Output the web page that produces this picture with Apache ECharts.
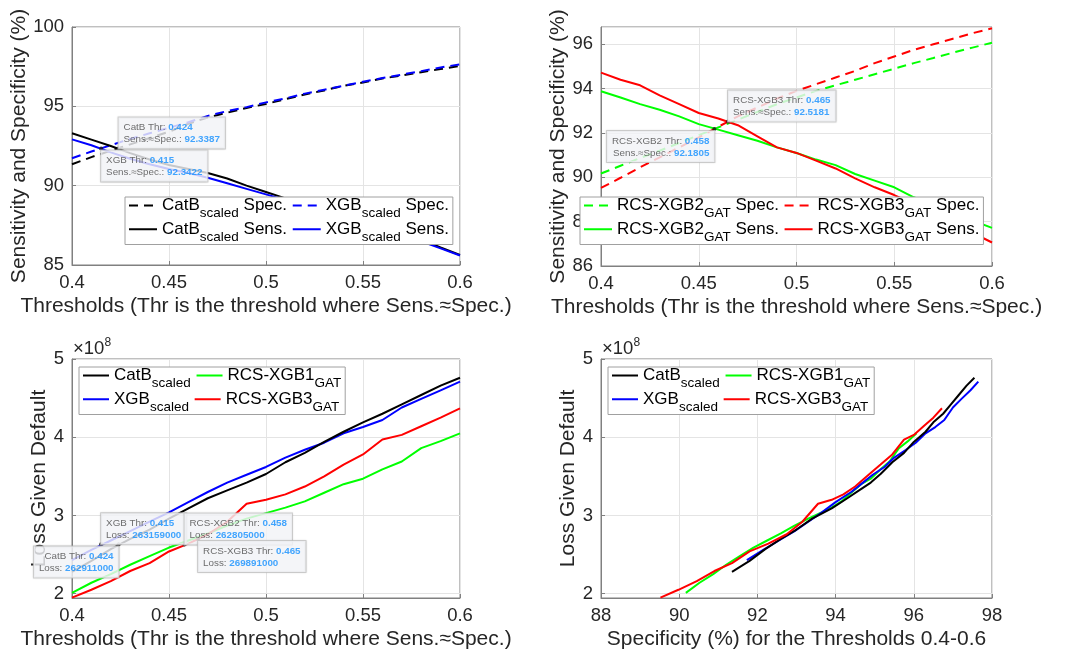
<!DOCTYPE html>
<html><head><meta charset="utf-8">
<script src="https://cdn.jsdelivr.net/npm/echarts@6/dist/echarts.min.js"></script>
<style>html,body{margin:0;padding:0;background:#fff}#c{width:1065px;height:661px}</style>
</head><body><div id="c"></div>
<script>
// ---------- data ----------
const thresholds = [0.40,0.41,0.42,0.43,0.44,0.45,0.46,0.47,0.48,0.49,0.50,0.51,0.52,0.53,0.54,0.55,0.56,0.57,0.58,0.59,0.60];
const catbSpec = [91.35,91.8,92.2,92.6,93.0,93.4,93.9,94.3,94.6,94.9,95.15,95.45,95.75,96.0,96.3,96.5,96.75,96.95,97.15,97.35,97.55];
const xgbSpec  = [91.73,92.15,92.55,92.95,93.3,93.65,94.0,94.4,94.7,94.95,95.25,95.5,95.8,96.05,96.3,96.55,96.78,97.0,97.22,97.45,97.65];
const catbSens = [93.3,92.9,92.5,92.05,91.65,91.3,91.05,90.8,90.45,90.0,89.6,89.2,88.8,88.45,88.1,87.75,87.4,87.05,86.6,86.1,85.63];
const xgbSens  = [92.92,92.55,92.1,91.7,91.35,91.05,90.8,90.5,90.15,89.8,89.45,89.1,88.75,88.4,88.05,87.7,87.3,86.9,86.5,86.05,85.6];
const xgb2Spec = [90.17,90.52,90.87,91.2,91.55,91.9,92.25,92.6,92.95,93.3,93.6,93.9,94.15,94.4,94.65,94.9,95.15,95.38,95.62,95.85,96.07];
const xgb3Spec = [89.52,89.98,90.45,90.9,91.35,91.8,92.28,92.75,93.15,93.55,93.9,94.2,94.5,94.8,95.15,95.45,95.75,96.0,96.25,96.5,96.72];
const xgb2Sens = [93.88,93.6,93.3,93.05,92.75,92.4,92.15,91.9,91.65,91.35,91.1,90.8,90.55,90.15,89.85,89.55,89.1,88.75,88.4,88.05,87.72];
const xgb3Sens = [94.72,94.4,94.15,93.7,93.3,92.9,92.65,92.35,91.85,91.35,91.1,90.75,90.4,89.95,89.55,89.2,88.8,88.4,88.0,87.5,87.06];
// Loss Given Default, in units of 1e8
const catbLoss = [2.28,2.42,2.57,2.70,2.82,2.96,3.09,3.22,3.32,3.42,3.53,3.68,3.80,3.94,4.07,4.19,4.30,4.42,4.54,4.66,4.76];
const xgbLoss  = [2.43,2.56,2.68,2.80,2.92,3.04,3.17,3.30,3.42,3.52,3.62,3.74,3.84,3.93,4.05,4.13,4.22,4.38,4.49,4.60,4.71];
const xgb1Loss = [2.01,2.14,2.25,2.37,2.48,2.59,2.68,2.77,2.87,2.96,3.03,3.10,3.18,3.29,3.40,3.47,3.59,3.69,3.86,3.95,4.05];
const xgb3Loss = [1.95,2.05,2.16,2.29,2.39,2.54,2.64,2.76,2.92,3.15,3.20,3.27,3.37,3.50,3.65,3.78,3.97,4.03,4.14,4.25,4.37];

const lossTicks = [2,3,4,5];

// data tips
const tipTLNames = ['CatB','XGB'];
const tipTLThr = [0.424,0.415];
const tipTLVal = [92.3387,92.3422];
const tipTRNames = ['RCS-XGB3','RCS-XGB2'];
const tipTRThr = [0.465,0.458];
const tipTRVal = [92.5181,92.1805];
const tipBLNames = ['XGB','CatB','RCS-XGB2','RCS-XGB3'];
const tipBLThr = [0.415,0.424,0.458,0.465];
const tipBLLoss = [263159000,262911000,262805000,269891000];

// ---------- styles ----------
const FONT = '"Liberation Sans", Arial, Helvetica, sans-serif';
const TXT = '#262626';
const AX = '#808080';
const DASH = [9,6];
const tipAnchorTL = ['bl','tl'];
const tipAnchorTR = ['bl','tr'];
const tipAnchorBL = ['bl','tr','bl','tl'];

const pairs = (xs, ys) => xs.map((x,i)=>[x, ys[i]]);

const grids = [
  {left:72, top:27, width:388, height:238},
  {left:601, top:27, width:391, height:239},
  {left:72, top:359, width:388, height:239},
  {left:601, top:359, width:391, height:239}
].map(g => Object.assign(g, {show:true, borderColor:AX, borderWidth:1, backgroundColor:'transparent'}));

function axisCommon(extra) {
  return Object.assign({
    type:'value',
    axisLine:{show:true, onZero:false, lineStyle:{color:AX, width:1}},
    axisTick:{show:true, inside:true, length:4, lineStyle:{color:AX}},
    axisLabel:{color:TXT, fontSize:18.5, fontFamily:FONT, margin:8},
    splitLine:{show:true, lineStyle:{color:'#e4e4e4', width:1}},
    nameLocation:'middle',
    nameTextStyle:{color:TXT, fontSize:21, fontFamily:FONT}
  }, extra);
}

const xAxes = [
  axisCommon({gridIndex:0, min:0.4, max:0.6, interval:0.05, name:'Thresholds (Thr is the threshold where Sens.≈Spec.)', nameGap:31}),
  axisCommon({gridIndex:1, min:0.4, max:0.6, interval:0.05, name:'Thresholds (Thr is the threshold where Sens.≈Spec.)', nameGap:31}),
  axisCommon({gridIndex:2, min:0.4, max:0.6, interval:0.05, name:'Thresholds (Thr is the threshold where Sens.≈Spec.)', nameGap:31}),
  axisCommon({gridIndex:3, min:88, max:98, interval:2, name:'Specificity (%) for the Thresholds 0.4-0.6', nameGap:31})
];
const lossAxisLabel = {color:TXT, fontSize:18.5, fontFamily:FONT, margin:8, customValues:lossTicks};
const yAxes = [
  axisCommon({gridIndex:0, min:85, max:100, interval:5, name:'Sensitivity and Specificity (%)', nameGap:38}),
  axisCommon({gridIndex:1, min:86, max:96.78, interval:2, name:'Sensitivity and Specificity (%)', nameGap:30,
    axisLabel:{color:TXT, fontSize:18.5, fontFamily:FONT, margin:8, showMaxLabel:false}}),
  axisCommon({gridIndex:2, min:1.945, max:5, name:'Loss Given Default', nameGap:20,
    axisLabel:lossAxisLabel, axisTick:{show:true, inside:true, length:4, lineStyle:{color:AX}, customValues:lossTicks},
    splitLine:{show:true, lineStyle:{color:'#e4e4e4'}, customValues:lossTicks}}),
  axisCommon({gridIndex:3, min:1.945, max:5, name:'Loss Given Default', nameGap:20,
    axisLabel:lossAxisLabel, axisTick:{show:true, inside:true, length:4, lineStyle:{color:AX}, customValues:lossTicks},
    splitLine:{show:true, lineStyle:{color:'#e4e4e4'}, customValues:lossTicks}})
];

function line(name, gi, xs, ys, color, dashed) {
  return {
    type:'line', name, xAxisIndex:gi, yAxisIndex:gi, data:pairs(xs, ys),
    symbol:'none', showSymbol:false, animation:false, silent:true, clip:true,
    lineStyle:{color, width:2, type: dashed ? DASH : 'solid'},
    itemStyle:{color}, z:2
  };
}

const tipRich = {
  k:{color:'#4a4a4a', fontSize:9.8, fontFamily:FONT, lineHeight:12},
  v:{color:'#1490ff', fontSize:9.8, fontFamily:FONT, fontWeight:'bold', lineHeight:12}
};
function anchorLabel(a) {
  const base = {show:true, position:[2,2], backgroundColor:'#f8f9fc', borderColor:'#c8c8c8', borderWidth:1,
    padding:[4,5,3,5], rich:tipRich, shadowColor:'rgba(0,0,0,0.12)', shadowBlur:2};
  if (a==='bl') return Object.assign(base, {align:'left', verticalAlign:'bottom', offset:[0,0]});
  if (a==='tl') return Object.assign(base, {align:'left', verticalAlign:'top', offset:[0,2]});
  if (a==='tr') return Object.assign(base, {align:'right', verticalAlign:'top', offset:[0,2]});
  return Object.assign(base, {align:'right', verticalAlign:'bottom'});
}
function tipSeries(gi, names, thrs, vals, anchors, key, scale) {
  return {
    type:'scatter', xAxisIndex:gi, yAxisIndex:gi, symbol:'circle', symbolSize:4, silent:true, animation:false, z:5,
    itemStyle:{color:'#1a1a1a'},
    data: names.map((n,i)=>({
      value:[thrs[i], vals[i]/scale],
      label: Object.assign(anchorLabel(anchors[i]), {
        formatter: '{k|' + n + ' Thr: }{v|' + thrs[i].toFixed(3) + '}\n{k|' + key + ': }{v|' + String(vals[i]) + '}'
      })
    }))
  };
}

const series = [
  line('CatB_scaled Spec.', 0, thresholds, catbSpec, '#000000', true),
  line('XGB_scaled Spec.', 0, thresholds, xgbSpec, '#0000ff', true),
  line('CatB_scaled Sens.', 0, thresholds, catbSens, '#000000', false),
  line('XGB_scaled Sens.', 0, thresholds, xgbSens, '#0000ff', false),

  line('RCS-XGB2_GAT Spec.', 1, thresholds, xgb2Spec, '#00ff00', true),
  line('RCS-XGB3_GAT Spec.', 1, thresholds, xgb3Spec, '#ff0000', true),
  line('RCS-XGB2_GAT Sens.', 1, thresholds, xgb2Sens, '#00ff00', false),
  line('RCS-XGB3_GAT Sens.', 1, thresholds, xgb3Sens, '#ff0000', false),

  line('RCS-XGB1_GAT', 2, thresholds, xgb1Loss, '#00ff00', false),
  line('RCS-XGB3_GAT', 2, thresholds, xgb3Loss, '#ff0000', false),
  line('XGB_scaled', 2, thresholds, xgbLoss, '#0000ff', false),
  line('CatB_scaled', 2, thresholds, catbLoss, '#000000', false),

  line('RCS-XGB1_GAT', 3, xgb2Spec, xgb1Loss, '#00ff00', false),
  line('XGB_scaled', 3, xgbSpec, xgbLoss, '#0000ff', false),
  line('CatB_scaled', 3, catbSpec, catbLoss, '#000000', false),
  line('RCS-XGB3_GAT', 3, xgb3Spec, xgb3Loss, '#ff0000', false),

  tipSeries(0, tipTLNames, tipTLThr, tipTLVal, tipAnchorTL, 'Sens.≈Spec.', 1),
  tipSeries(1, tipTRNames, tipTRThr, tipTRVal, tipAnchorTR, 'Sens.≈Spec.', 1),
  tipSeries(2, tipBLNames, tipBLThr, tipBLLoss, tipAnchorBL, 'Loss', 1e8)
];

function legend(left, top, names, padCol1, width, itemWidth) {
  return {
    show:true, left, top, width, orient:'horizontal',
    padding:[0,4,0,3], itemGap:0, itemWidth, itemHeight:14,
    backgroundColor:'#ffffff', borderColor:'#a0a0a0', borderWidth:1, borderRadius:0,
    selectedMode:false, z:10,
    itemStyle:{opacity:0, borderWidth:0},
    formatter: n => n.replace(/_(\S+)/, '{sub|$1}') + (names.indexOf(n) % 2 === 0 ? '{pad| }' : ''),
    textStyle:{color:'#000', fontSize:17, fontFamily:FONT,
      rich:{
        sub:{fontSize:13.5, fontFamily:FONT, color:'#000', padding:[16.5,0,0,0]},
        pad:{fontSize:17, fontFamily:FONT, width:padCol1}
      }},
    data: names.map(n=>({
      name:n,
      itemStyle:{opacity:0, borderWidth:0},
      lineStyle:{width:2, type: /Spec\.$/.test(n) ? DASH : 'solid'}
    }))
  };
}

const legends = [
  legend(125, 197, ['CatB_scaled Spec.','XGB_scaled Spec.','CatB_scaled Sens.','XGB_scaled Sens.'], 11, 330, 28),
  legend(580, 197, ['RCS-XGB2_GAT Spec.','RCS-XGB3_GAT Spec.','RCS-XGB2_GAT Sens.','RCS-XGB3_GAT Sens.'], 12, 405, 28),
  legend(79, 367, ['CatB_scaled','RCS-XGB1_GAT','XGB_scaled','RCS-XGB3_GAT'], 12, 268, 26),
  legend(608, 367, ['CatB_scaled','RCS-XGB1_GAT','XGB_scaled','RCS-XGB3_GAT'], 13, 270, 26)
];

function expLabel(x) {
  return {type:'text', x, y:360.5, z:20, silent:true,
    style:{text:'×10{s|8}', fill:TXT, fontSize:18.5, fontFamily:FONT, verticalAlign:'bottom', align:'left',
      rich:{s:{fontSize:12, fontFamily:FONT, fill:TXT, padding:[0,0,12,0]}}}};
}

const chart = echarts.init(document.getElementById('c'), null, {renderer:'canvas'});
chart.setOption({
  animation:false,
  backgroundColor:'#ffffff',
  grid: grids,
  xAxis: xAxes,
  yAxis: yAxes,
  legend: legends,
  series,
  graphic: [expLabel(73), expLabel(602)]
});
</script>
</body></html>
